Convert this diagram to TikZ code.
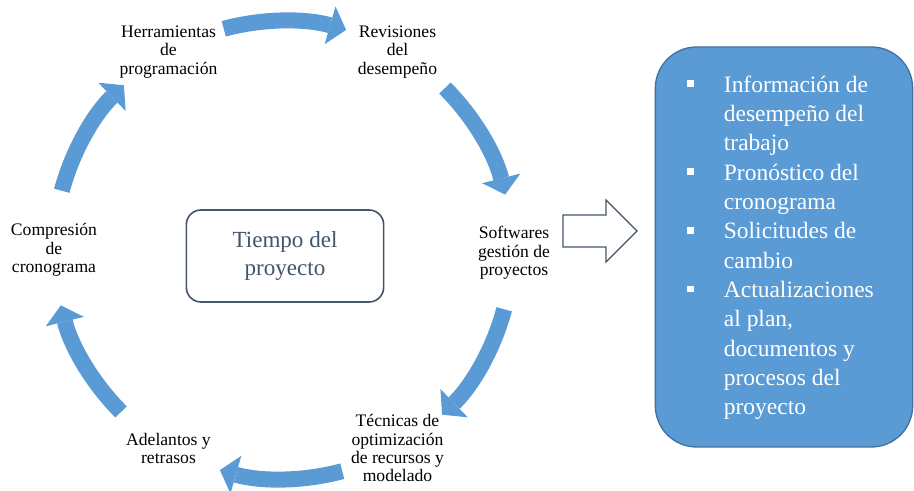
\documentclass[tikz,border=0pt]{standalone}
\usepackage{fontspec}
\setmainfont{Liberation Serif}
\usetikzlibrary{calc,arrows.meta}
\definecolor{azul}{HTML}{5B9BD5}
\definecolor{azulborde}{HTML}{41719C}
\definecolor{pizarra}{HTML}{44546A}
\tikzset{
    % Styles for the cycle: labels, curved arrows, boxes and the hollow arrow
    etiqueta/.style={align=center,inner sep=0,font=\fontsize{13.2}{13.8}\selectfont},
    ciclo/.style={draw=azul,line width=12pt,-{Triangle[length=12.5pt,width=29.5pt,line width=0pt]}},
    caja central/.style={draw=pizarra,line width=1.2pt,rounded corners=11pt,minimum width=148pt,minimum height=69pt,align=center,text=pizarra,font=\fontsize{17.3}{20.3}\selectfont},
    caja info/.style={draw=azulborde,fill=azul,line width=1pt,rounded corners=31pt,minimum width=193pt,minimum height=300pt},
    lista/.style={align=left,inner sep=0,text=white,font=\fontsize{17.6}{22}\selectfont},
    hueca/.style={draw=pizarra,line width=1pt,fill=white}
    }
\newcommand{\vineta}{\llap{\rule[3.75pt]{5pt}{5pt}\hspace{22.75pt}}}

\begin{document}
\begin{tikzpicture}[x=0.75pt,y=-0.75pt] % one unit is one pixel of the sketch
        \useasboundingbox (0,0) rectangle (914,491);
        \coordinate (c) at (283,250);
        % The cycle labels
        \node(herr)[etiqueta] at ($(c)+(-120:229)$) {Herramientas\\de\\programación};
        \node(rev)[etiqueta] at ($(c)+(-60:229)$) {Revisiones\\del\\desempeño};
        \node(soft)[etiqueta] at ($(c)+(0:229)+(2,3)$) {Softwares\\gestión de\\proyectos};
        \node(tec)[etiqueta] at ($(c)+(60:229)$) {Técnicas de\\optimización\\de recursos y\\modelado};
        \node(adel)[etiqueta] at ($(c)+(120:229)$) {Adelantos y\\retrasos};
        \node(comp)[etiqueta] at ($(c)+(180:229)$) {Compresión\\de\\cronograma};
        % curved arrows between the labels
        \draw[ciclo] ($(c)+(-105:229)$) arc[start angle=-105,end angle=-74,radius=229];
        \draw[ciclo] ($(c)+(-45:229)$) arc[start angle=-45,end angle=-14,radius=229];
        \draw[ciclo] ($(c)+(15:229)$) arc[start angle=15,end angle=46,radius=229];
        \draw[ciclo] ($(c)+(75:229)$) arc[start angle=75,end angle=106,radius=229];
        \draw[ciclo] ($(c)+(135:229)$) arc[start angle=135,end angle=166,radius=229];
        \draw[ciclo] ($(c)+(195:229)$) arc[start angle=195,end angle=226,radius=229];
        \node(tiempo)[caja central] at (285,256) {Tiempo del\\proyecto};
        % hollow arrow and the outputs
        \coordinate (f) at (563,231);
        \draw[hueca] (f) ++(0,-16) -- ++(43,0) -- ++(0,-15) -- ++(31,31) -- ++(-31,31) -- ++(0,-15) -- ++(-43,0) -- cycle;
        \node(info)[caja info] at (784,247) {};
        \node(lista)[lista,anchor=north west] at ($(info.north west)+(69,29)$) {\vineta Información de\\desempeño del\\trabajo\\\vineta Pronóstico del\\cronograma\\\vineta Solicitudes de\\cambio\\\vineta Actualizaciones\\al plan,\\documentos y\\procesos del\\proyecto};
    \end{tikzpicture}
\end{document}
